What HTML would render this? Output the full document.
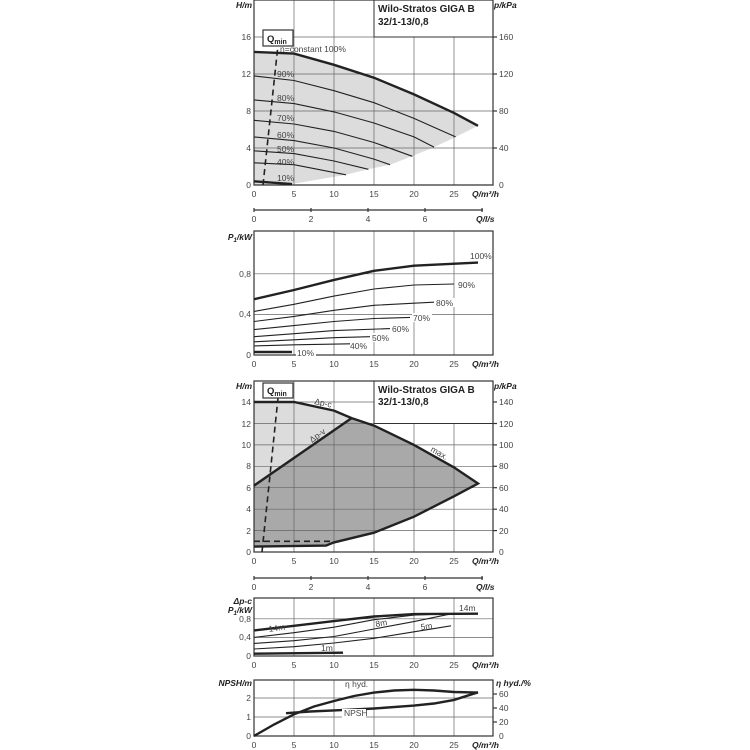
<!DOCTYPE html>
<html><head><style>
body{margin:0;background:#fff}
svg{display:block}
text{font-family:"Liberation Sans",sans-serif;font-size:8.5px;fill:#444}
.ax{font-weight:bold;font-style:italic;fill:#222;font-size:8.5px}
.ti{font-weight:bold;fill:#222;font-size:10px}
.g{stroke:#666;stroke-width:0.7;fill:none}
.f{stroke:#333;stroke-width:1.2;fill:none}
.c{stroke:#222;stroke-width:1.1;fill:none}
.t{stroke:#222;stroke-width:2.4;fill:none}
.d{stroke:#222;stroke-width:1.6;fill:none;stroke-dasharray:6,4}
</style></head><body>
<svg width="750" height="750" viewBox="0 0 750 750">
<!-- ===== Chart 1 ===== -->
<polygon points="254,51.9 294,53.6 334,64.8 374,77.7 414,94.4 454,112.9 478,125.8 456,136.9 434,147.1 412,156.3 390,164.7 368,169.3 346,174.8 292,184 254,185" fill="#dcdcdc"/>
<g class="g">
<line x1="294" y1="0" x2="294" y2="185"/><line x1="334" y1="0" x2="334" y2="185"/><line x1="374" y1="0" x2="374" y2="185"/><line x1="414" y1="37" x2="414" y2="185"/><line x1="454" y1="37" x2="454" y2="185"/>
<line x1="254" y1="148" x2="493" y2="148"/><line x1="254" y1="111" x2="493" y2="111"/><line x1="254" y1="74" x2="493" y2="74"/><line x1="254" y1="37" x2="374" y2="37"/>
</g>
<rect x="374" y="0" width="119" height="37" fill="#fff" stroke="#333" stroke-width="1"/>
<polyline class="f" points="254,0 254,185 493,185 493,0"/>
<line class="f" x1="254" y1="0" x2="493" y2="0"/>
<text class="ti" x="378" y="12">Wilo-Stratos GIGA B</text>
<text class="ti" x="378" y="25">32/1-13/0,8</text>
<polyline class="t" points="254,51.9 294,53.6 334,64.8 374,77.7 414,94.4 454,112.9 478,125.8"/>
<polyline class="c" points="254,75.9 294,80.5 334,90.7 374,102.7 414,118.4 455.6,136.9"/>
<polyline class="c" points="254,99.9 294,103.6 334,111.9 374,123 414,136.9 434,147.1"/>
<polyline class="c" points="254,120.3 294,124 334,131.4 374,142.5 412.4,156.3"/>
<polyline class="c" points="254,136.9 294,140.6 334,148 374,159.1 390,164.7"/>
<polyline class="c" points="254,150.8 294,153.6 334,161 368.4,169.3"/>
<polyline class="c" points="254,162.8 294,164.7 346,174.8"/>
<polyline class="t" points="254,181.3 292,184.1"/>
<line class="d" x1="263" y1="185" x2="278" y2="45"/>
<rect x="263" y="30" width="30" height="16" fill="#fff" stroke="#333" stroke-width="1.2"/>
<text x="267" y="42" style="font-weight:bold;fill:#222;font-size:9.5px">Q<tspan font-size="7" dy="2">min</tspan></text>
<text x="280" y="52">n=constant 100%</text>
<text x="277" y="77">90%</text><text x="277" y="101">80%</text><text x="277" y="121">70%</text><text x="277" y="138">60%</text><text x="277" y="152">50%</text><text x="277" y="165">40%</text><text x="277" y="181">10%</text>
<g text-anchor="end"><text x="251" y="188">0</text><text x="251" y="151">4</text><text x="251" y="114">8</text><text x="251" y="77">12</text><text x="251" y="40">16</text><text class="ax" x="252" y="8">H/m</text></g>
<g class="f"><line x1="493" y1="148" x2="497" y2="148"/><line x1="493" y1="111" x2="497" y2="111"/><line x1="493" y1="74" x2="497" y2="74"/><line x1="493" y1="37" x2="497" y2="37"/></g>
<text x="499" y="188">0</text><text x="499" y="151">40</text><text x="499" y="114">80</text><text x="499" y="77">120</text><text x="499" y="40">160</text><text class="ax" x="494" y="8">p/kPa</text>
<g text-anchor="middle"><text x="254" y="197">0</text><text x="294" y="197">5</text><text x="334" y="197">10</text><text x="374" y="197">15</text><text x="414" y="197">20</text><text x="454" y="197">25</text></g>
<text class="ax" x="472" y="197">Q/m³/h</text>
<line class="f" x1="254" y1="210" x2="483" y2="210"/>
<g class="f"><line x1="254" y1="208" x2="254" y2="212"/><line x1="311" y1="208" x2="311" y2="212"/><line x1="368" y1="208" x2="368" y2="212"/><line x1="425" y1="208" x2="425" y2="212"/><line x1="482" y1="208" x2="482" y2="212"/></g>
<g text-anchor="middle"><text x="254" y="222">0</text><text x="311" y="222">2</text><text x="368" y="222">4</text><text x="425" y="222">6</text></g>
<text class="ax" x="476" y="222">Q/l/s</text>

<!-- ===== Chart 2 ===== -->
<g class="g">
<line x1="294" y1="231" x2="294" y2="355"/><line x1="334" y1="231" x2="334" y2="355"/><line x1="374" y1="231" x2="374" y2="355"/><line x1="414" y1="231" x2="414" y2="355"/><line x1="454" y1="231" x2="454" y2="355"/>
<line x1="254" y1="314.4" x2="493" y2="314.4"/><line x1="254" y1="273.8" x2="493" y2="273.8"/>
</g>
<rect x="254" y="231" width="239" height="124" fill="none" stroke="#333" stroke-width="1.2"/>
<g fill="#fff">
<rect x="469" y="251" width="22" height="9"/><rect x="457" y="280" width="20" height="9"/><rect x="435" y="298" width="20" height="9"/><rect x="412" y="313" width="20" height="9"/><rect x="391" y="324" width="20" height="9"/><rect x="371" y="333" width="20" height="9"/><rect x="349" y="341" width="20" height="9"/><rect x="296" y="348" width="20" height="9"/>
</g>
<polyline class="t" points="254,299.2 294,290 334,279.9 374,270.8 414,265.7 478,262.6"/>
<polyline class="c" points="254,311.4 294,304.3 334,296.1 374,289 414,285 454,284"/>
<polyline class="c" points="254,321.5 294,316.4 334,310.3 374,305.3 414,303.2 434,302.2"/>
<polyline class="c" points="254,329.6 294,325.6 334,321.5 374,318.5 410,317.4"/>
<polyline class="c" points="254,336.7 294,333.7 334,330.6 390,328.6"/>
<polyline class="c" points="254,341.8 294,339.8 334,337.7 370,336.7"/>
<polyline class="c" points="254,345.9 294,344.8 350,343.8"/>
<polyline class="t" points="254,352 292,352"/>
<text x="470" y="259">100%</text><text x="458" y="288">90%</text><text x="436" y="306">80%</text><text x="413" y="321">70%</text><text x="392" y="332">60%</text><text x="372" y="341">50%</text><text x="350" y="349">40%</text><text x="297" y="356">10%</text>
<g text-anchor="end"><text x="251" y="358">0</text><text x="251" y="317">0,4</text><text x="251" y="277">0,8</text><text class="ax" x="252" y="240">P<tspan font-size="6" dy="2">1</tspan><tspan dy="-2">/kW</tspan></text></g>
<g text-anchor="middle"><text x="254" y="367">0</text><text x="294" y="367">5</text><text x="334" y="367">10</text><text x="374" y="367">15</text><text x="414" y="367">20</text><text x="454" y="367">25</text></g>
<text class="ax" x="472" y="367">Q/m³/h</text>

<!-- ===== Chart 3 ===== -->
<polygon points="254,402 294,402 334,410.6 351.6,418.1 254,485.6" fill="#dcdcdc"/>
<polygon points="254,485.6 351.6,418.1 374,425.6 414,444.9 454,467.4 478,483.5 454,496.3 414,516.7 374,532.7 334,542.4 326,545.6 254,546.6" fill="#a9a9a9"/>
<g class="g">
<line x1="294" y1="381" x2="294" y2="552"/><line x1="334" y1="381" x2="334" y2="552"/><line x1="374" y1="381" x2="374" y2="552"/><line x1="414" y1="423.5" x2="414" y2="552"/><line x1="454" y1="423.5" x2="454" y2="552"/>
<line x1="254" y1="530.6" x2="493" y2="530.6"/><line x1="254" y1="509.2" x2="493" y2="509.2"/><line x1="254" y1="487.7" x2="493" y2="487.7"/><line x1="254" y1="466.3" x2="493" y2="466.3"/><line x1="254" y1="444.9" x2="493" y2="444.9"/><line x1="254" y1="423.5" x2="374" y2="423.5"/><line x1="254" y1="402" x2="374" y2="402"/>
</g>
<rect x="374" y="381" width="119" height="42.5" fill="#fff" stroke="#333" stroke-width="1"/>
<rect x="254" y="381" width="239" height="171" fill="none" stroke="#333" stroke-width="1.2"/>
<text class="ti" x="378" y="393">Wilo-Stratos GIGA B</text>
<text class="ti" x="378" y="405">32/1-13/0,8</text>
<polyline class="t" points="254,402 294,402 334,410.6 351.6,418.1 374,425.6 414,444.9 454,467.4 478,483.5 454,496.3 414,516.7 374,532.7 334,542.4 326,545.6 254,546.6"/>
<polyline class="t" points="254,485.6 351.6,418.1"/>
<line class="d" x1="254" y1="541.3" x2="334" y2="541.3"/>
<line class="d" x1="262" y1="552" x2="278" y2="398"/>
<rect x="263" y="383" width="30" height="15" fill="#fff" stroke="#333" stroke-width="1.2"/>
<text x="267" y="394" style="font-weight:bold;fill:#222;font-size:9.5px">Q<tspan font-size="7" dy="2">min</tspan></text>
<text x="314" y="404" transform="rotate(12 314 404)">Δp-c</text>
<text x="312" y="443" transform="rotate(-36 312 443)">Δp-v</text>
<text x="430" y="451" transform="rotate(30 430 451)">max.</text>
<g text-anchor="end"><text x="251" y="555">0</text><text x="251" y="534">2</text><text x="251" y="512">4</text><text x="251" y="491">6</text><text x="251" y="469">8</text><text x="251" y="448">10</text><text x="251" y="427">12</text><text x="251" y="405">14</text><text class="ax" x="252" y="389">H/m</text></g>
<g class="f"><line x1="493" y1="530.6" x2="497" y2="530.6"/><line x1="493" y1="509.2" x2="497" y2="509.2"/><line x1="493" y1="487.7" x2="497" y2="487.7"/><line x1="493" y1="466.3" x2="497" y2="466.3"/><line x1="493" y1="444.9" x2="497" y2="444.9"/><line x1="493" y1="423.5" x2="497" y2="423.5"/><line x1="493" y1="402" x2="497" y2="402"/></g>
<text x="499" y="555">0</text><text x="499" y="534">20</text><text x="499" y="512">40</text><text x="499" y="491">60</text><text x="499" y="469">80</text><text x="499" y="448">100</text><text x="499" y="427">120</text><text x="499" y="405">140</text><text class="ax" x="494" y="389">p/kPa</text>
<g text-anchor="middle"><text x="254" y="564">0</text><text x="294" y="564">5</text><text x="334" y="564">10</text><text x="374" y="564">15</text><text x="414" y="564">20</text><text x="454" y="564">25</text></g>
<text class="ax" x="472" y="564">Q/m³/h</text>
<line class="f" x1="254" y1="578" x2="483" y2="578"/>
<g class="f"><line x1="254" y1="576" x2="254" y2="580"/><line x1="311" y1="576" x2="311" y2="580"/><line x1="368" y1="576" x2="368" y2="580"/><line x1="425" y1="576" x2="425" y2="580"/><line x1="482" y1="576" x2="482" y2="580"/></g>
<g text-anchor="middle"><text x="254" y="590">0</text><text x="311" y="590">2</text><text x="368" y="590">4</text><text x="425" y="590">6</text></g>
<text class="ax" x="476" y="590">Q/l/s</text>

<!-- ===== Chart 4 ===== -->
<g class="g">
<line x1="294" y1="598" x2="294" y2="656"/><line x1="334" y1="598" x2="334" y2="656"/><line x1="374" y1="598" x2="374" y2="656"/><line x1="414" y1="598" x2="414" y2="656"/><line x1="454" y1="598" x2="454" y2="656"/>
<line x1="254" y1="637.4" x2="493" y2="637.4"/><line x1="254" y1="618.8" x2="493" y2="618.8"/>
</g>
<rect x="254" y="598" width="239" height="58" fill="none" stroke="#333" stroke-width="1.2"/>
<polyline class="t" points="254,630.4 294,625.8 334,621.1 374,616.5 414,614.1 478,613.7"/>
<polyline class="c" points="254,637.4 294,632.7 334,627.2 374,619.7 414,615.1 450,613.7"/>
<polyline class="c" points="254,643.4 294,640.7 334,636.5 374,629 414,621.6 450,614.1"/>
<polyline class="c" points="254,649 294,646.7 334,643 374,638.3 414,631.8 451,625.8"/>
<polyline class="t" points="254,653.7 343,652.7"/>
<text x="459" y="611">14m</text><text x="269" y="632" transform="rotate(-8 269 632)">14m</text><text x="376" y="627" transform="rotate(-10 376 627)">8m</text><text x="421" y="630" transform="rotate(-8 421 630)">5m</text><text x="321" y="651">1m</text>
<g text-anchor="end"><text x="251" y="659">0</text><text x="251" y="640">0,4</text><text x="251" y="622">0,8</text><text class="ax" x="252" y="604">Δp-c</text><text class="ax" x="252" y="613">P<tspan font-size="6" dy="2">1</tspan><tspan dy="-2">/kW</tspan></text></g>
<g text-anchor="middle"><text x="254" y="668">0</text><text x="294" y="668">5</text><text x="334" y="668">10</text><text x="374" y="668">15</text><text x="414" y="668">20</text><text x="454" y="668">25</text></g>
<text class="ax" x="472" y="668">Q/m³/h</text>

<!-- ===== Chart 5 ===== -->
<g class="g">
<line x1="294" y1="680" x2="294" y2="736"/><line x1="334" y1="680" x2="334" y2="736"/><line x1="374" y1="680" x2="374" y2="736"/><line x1="414" y1="680" x2="414" y2="736"/><line x1="454" y1="680" x2="454" y2="736"/>
<line x1="254" y1="717" x2="493" y2="717"/><line x1="254" y1="698" x2="493" y2="698"/>
</g>
<rect x="254" y="680" width="239" height="56" fill="none" stroke="#333" stroke-width="1.2"/>
<polyline class="t" points="254,736 274,724.5 294,714.3 314,706.5 334,701 354,696 374,692.6 394,690.5 414,689.8 434,690.5 454,692 478,692.6"/>
<polyline class="t" points="286,713.2 310,711.5 334,710.4 374,708.5 414,705.6 434,703.5 454,699.9 478,692.3"/>
<rect x="342" y="709" width="24" height="9" fill="#fff"/>
<text x="344" y="716">NPSH</text>
<text x="345" y="687">η hyd.</text>
<g class="f"><line x1="493" y1="722" x2="497" y2="722"/><line x1="493" y1="708" x2="497" y2="708"/><line x1="493" y1="694" x2="497" y2="694"/></g>
<g text-anchor="end"><text x="251" y="739">0</text><text x="251" y="720">1</text><text x="251" y="701">2</text><text class="ax" x="252" y="686">NPSH/m</text></g>
<text x="499" y="739">0</text><text x="499" y="725">20</text><text x="499" y="711">40</text><text x="499" y="697">60</text><text class="ax" x="496" y="686">η hyd./%</text>
<g text-anchor="middle"><text x="254" y="748">0</text><text x="294" y="748">5</text><text x="334" y="748">10</text><text x="374" y="748">15</text><text x="414" y="748">20</text><text x="454" y="748">25</text></g>
<text class="ax" x="472" y="748">Q/m³/h</text>
</svg>
</body></html>
